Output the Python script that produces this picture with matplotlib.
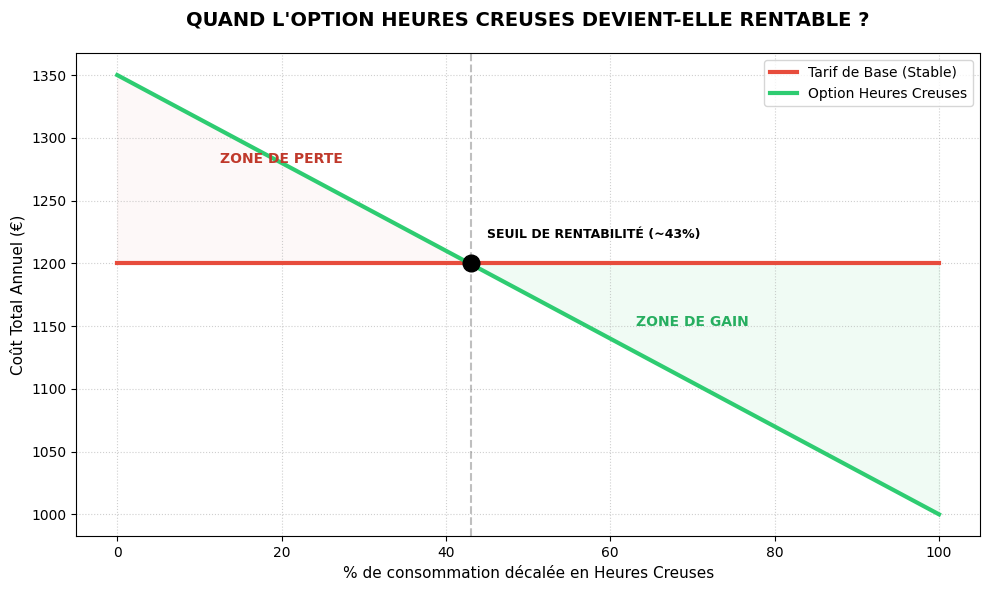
import numpy as np
import matplotlib.pyplot as plt

# data
pct_shift = [0, 100]
base_cost = [1200, 1200]
hc_cost = [1350, 1000]
breakeven = 43  # ~43 %, as labelled

x = np.array(pct_shift, dtype=float)
base = np.array(base_cost, dtype=float)
hc = np.array(hc_cost, dtype=float)

fig, ax = plt.subplots(figsize=(9.89, 5.9), dpi=100)

ax.plot(x, base, color='#e74c3c', linewidth=3, label='Tarif de Base (Stable)')
ax.plot(x, hc, color='#2ecc71', linewidth=3, label='Option Heures Creuses')

# fill zones, evaluated at the true crossing too so the triangles close nicely
cross = (hc[0] - base[0]) / ((hc[0] - hc[1]) / (x[1] - x[0]))
xf = np.array([x[0], cross, x[1]])
bf = np.interp(xf, x, base)
hf = np.interp(xf, x, hc)
ax.fill_between(xf, bf, hf, where=hf >= bf, color='#c0392b', alpha=0.03, interpolate=True)
ax.fill_between(xf, bf, hf, where=hf <= bf, color='#2ecc71', alpha=0.07, interpolate=True)

ax.axvline(breakeven, color='gray', linestyle='--', alpha=0.5)
ax.plot(breakeven, base[0], 'o', color='black', markersize=12, zorder=5)

ax.text(breakeven + 2, 1220, 'SEUIL DE RENTABILITÉ (~43%)', fontsize=9, fontweight='bold')
ax.text(20, 1280, 'ZONE DE PERTE', color='#c0392b', fontweight='bold', ha='center')
ax.text(70, 1150, 'ZONE DE GAIN', color='#27ae60', fontweight='bold', ha='center')

ax.set_title("QUAND L'OPTION HEURES CREUSES DEVIENT-ELLE RENTABLE ?", fontsize=14, fontweight='bold', pad=20)
ax.set_xlabel('% de consommation décalée en Heures Creuses', fontsize=11)
ax.set_ylabel('Coût Total Annuel (€)', fontsize=11)
ax.grid(True, linestyle=':', alpha=0.6)
ax.legend(loc='upper right')

plt.subplots_adjust(left=0.077, right=0.991, top=0.910, bottom=0.091)
plt.savefig('out.png', dpi=100)
